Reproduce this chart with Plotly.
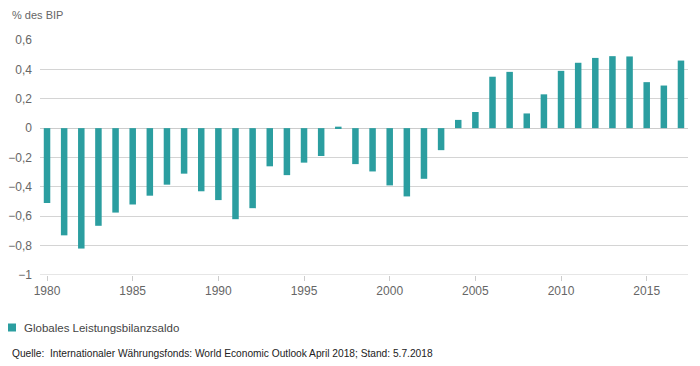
import plotly.graph_objects as go

years = list(range(1980, 2018))
values = [-0.51, -0.73, -0.82, -0.665, -0.575, -0.52, -0.46, -0.385, -0.31, -0.43,
          -0.49, -0.62, -0.545, -0.26, -0.32, -0.235, -0.19, 0.01, -0.245, -0.295,
          -0.39, -0.465, -0.345, -0.15, 0.056, 0.11, 0.35, 0.383, 0.10, 0.23,
          0.39, 0.445, 0.478, 0.49, 0.488, 0.313, 0.29, 0.46]
series_name = "Globales Leistungsbilanzsaldo"
y_ticks = [0.6, 0.4, 0.2, 0, -0.2, -0.4, -0.6, -0.8, -1]
x_ticks = [1980, 1985, 1990, 1995, 2000, 2005, 2010, 2015]
unit_label = "% des BIP"
source_text = "Quelle:  Internationaler Währungsfonds: World Economic Outlook April 2018; Stand: 5.7.2018"

color = "#2b9ea0"
font = "Liberation Sans, Arial, sans-serif"

W, H = 700, 366
ML, MR, MT, MB = 40, 12, 40, 91
plot_w = W - ML - MR
plot_h = H - MT - MB


def px_x(x):
    return (x - ML) / plot_w


def px_y(y):
    return (H - MB - y) / plot_h


fig = go.Figure()
fig.add_trace(go.Bar(x=years, y=values, name=series_name, marker_color=color,
                     marker_line_width=0, showlegend=False))

fig.update_layout(
    width=W, height=H,
    margin=dict(l=ML, r=MR, t=MT, b=MB, autoexpand=False),
    paper_bgcolor="white", plot_bgcolor="white",
    separators=",.",
    bargap=0.62,
    showlegend=False,
    font=dict(family=font, size=12, color="#666"),
    xaxis=dict(range=[1979.59, 2017.41], tickvals=x_ticks, showgrid=False,
               showline=False, ticks="outside", ticklen=5, tickcolor="#cccccc",
               tickfont=dict(size=12, color="#666"), zeroline=False, automargin=False),
    yaxis=dict(range=[-1, 0.6], tickvals=y_ticks, showgrid=True, gridcolor="#d4d4d4",
               gridwidth=1, zeroline=True, zerolinecolor="#cccccc", zerolinewidth=1,
               showline=False, ticks="", tickfont=dict(size=12, color="#666"),
               ticklabelstandoff=7, automargin=False),
    annotations=[
        dict(text=unit_label, x=px_x(10), y=px_y(15), xref="paper", yref="paper",
             showarrow=False, xanchor="left", yanchor="middle",
             font=dict(size=11, color="#666")),
        dict(text=series_name, x=px_x(22), y=px_y(328), xref="paper", yref="paper",
             showarrow=False, xanchor="left", yanchor="middle",
             font=dict(size=11.5, color="#444")),
        dict(text=source_text, x=px_x(10), y=px_y(353), xref="paper", yref="paper",
             showarrow=False, xanchor="left", yanchor="middle",
             font=dict(size=10.2, color="#222")),
    ],
)

# legend swatch
fig.add_shape(type="rect", xref="paper", yref="paper",
              x0=px_x(8), x1=px_x(16), y0=px_y(331.5), y1=px_y(323.5),
              fillcolor=color, line=dict(width=0))

# x-axis base line at -1
fig.add_shape(type="line", xref="paper", yref="y", x0=0, x1=1, y0=-1, y1=-1,
              line=dict(color="#cccccc", width=1), layer="below")

fig.write_html("out.html", config={"displayModeBar": False},
               post_script="document.body.style.margin='0';document.body.style.overflow='hidden';")
